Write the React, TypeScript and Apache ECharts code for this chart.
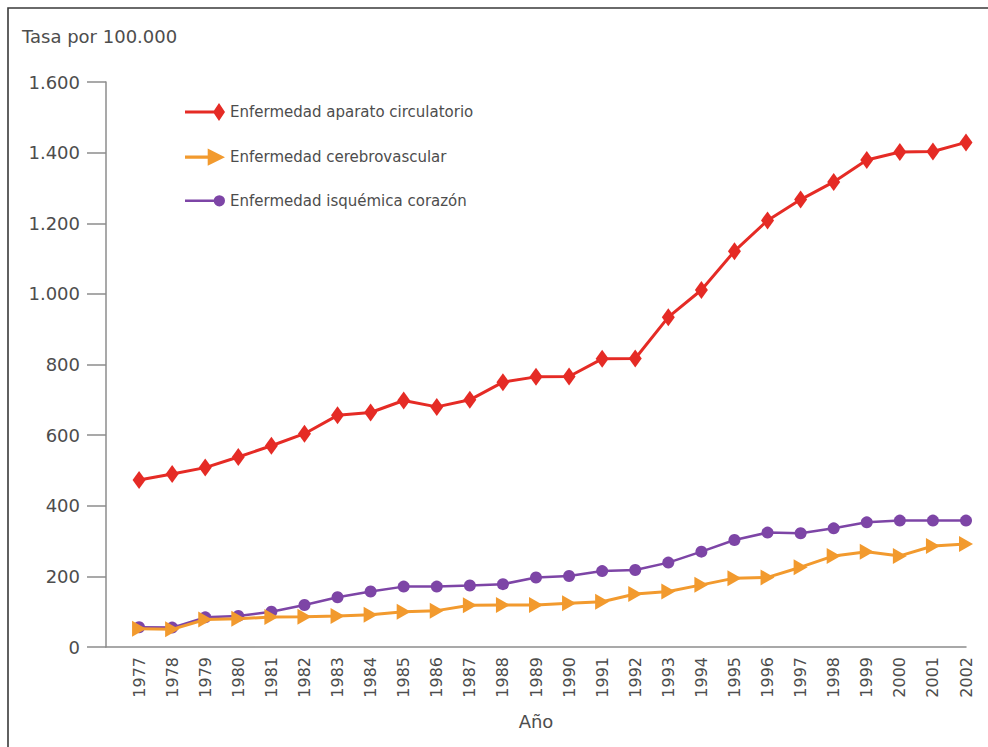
import React, { useEffect, useRef } from "react";
import * as echarts from "echarts";

// Años del período
const years = [
  1977, 1978, 1979, 1980, 1981, 1982, 1983, 1984, 1985, 1986, 1987, 1988, 1989,
  1990, 1991, 1992, 1993, 1994, 1995, 1996, 1997, 1998, 1999, 2000, 2001, 2002,
];

// Tasas por 100.000 habitantes
const circulatorio = [
  473, 490, 508, 538, 570, 604, 656, 664, 698, 680, 700, 750, 765,
  766, 816, 817, 934, 1011, 1121, 1208, 1267, 1317, 1379, 1402, 1403, 1429,
];
const cerebrovascular = [
  52, 50, 78, 80, 85, 86, 88, 91, 100, 103, 118, 119, 119,
  124, 128, 150, 157, 176, 195, 197, 226, 258, 270, 258, 286, 292,
];
const isquemica = [
  56, 55, 84, 88, 100, 119, 141, 157, 171, 171, 174, 178, 197,
  201, 215, 218, 239, 270, 303, 324, 322, 336, 353, 358, 358, 358,
];

const seriesNames = [
  "Enfermedad aparato circulatorio",
  "Enfermedad cerebrovascular",
  "Enfermedad isquémica corazón",
];

const RED = "#e52b25";
const ORANGE = "#f29a2e";
const PURPLE = "#7d45a6";
const TEXT = "#4d4d4d";
const AXIS = "#8c8c8c";
const FONT = "'DejaVu Sans', 'Liberation Sans', sans-serif";

// Iconos de leyenda: línea con el marcador en el extremo
const iconDiamond = "path://M0,8.5 L30,8.5 L30,11.5 L0,11.5 Z M34,1 L40,10 L34,19 L28,10 Z";
const iconArrow = "path://M0,8.5 L24,8.5 L24,11.5 L0,11.5 Z M21,2 L37,10 L21,18 Z";
const iconDot =
  "path://M0,8.8 L30,8.8 L30,11.2 L0,11.2 Z M39,10 A5.5,5.5 0 1 1 28,10 A5.5,5.5 0 1 1 39,10 Z";

const pairs = (vals: number[]) => years.map((y, i) => [y, vals[i]]);

const fmtThousands = (v: number) =>
  v >= 1000 ? `${Math.floor(v / 1000)}.${String(v % 1000).padStart(3, "0")}` : String(v);

export default function App() {
  const ref = useRef<HTMLDivElement>(null);

  useEffect(() => {
    if (!ref.current) return;
    const chart = echarts.init(ref.current, null, { renderer: "svg" });
    chart.setOption({
      animation: false,
      backgroundColor: "#ffffff",
      textStyle: { fontFamily: FONT },
      grid: {
        left: 106,
        right: 22,
        top: 82,
        bottom: 100,
        containLabel: false,
        outerBoundsMode: "none",
      },
      graphic: [
        {
          type: "rect",
          silent: true,
          shape: { x: 8, y: 8, width: 1000, height: 800 },
          style: { fill: "none", stroke: "#3a3a3a", lineWidth: 1.6 },
        },
        {
          type: "text",
          left: 22,
          top: 27,
          style: {
            text: "Tasa por 100.000",
            fontSize: 18,
            fontFamily: FONT,
            fill: TEXT,
          },
        },
      ],
      legend: {
        orient: "vertical",
        left: 185,
        top: 103,
        padding: 0,
        itemWidth: 40,
        itemHeight: 20,
        itemGap: 27.5,
        textStyle: { fontSize: 15, color: TEXT, fontFamily: FONT },
        data: [
          { name: seriesNames[0], icon: iconDiamond, itemStyle: { color: RED } },
          { name: seriesNames[1], icon: iconArrow, itemStyle: { color: ORANGE } },
          { name: seriesNames[2], icon: iconDot, itemStyle: { color: PURPLE } },
        ],
      },
      xAxis: {
        type: "value",
        min: 1976,
        max: 2002,
        interval: 1,
        name: "Año",
        nameLocation: "middle",
        nameGap: 65,
        nameTextStyle: { fontSize: 18, color: TEXT, fontFamily: FONT },
        axisLine: { show: true, lineStyle: { color: AXIS, width: 1.5 } },
        axisTick: { show: false },
        splitLine: { show: false },
        axisLabel: {
          rotate: 90,
          margin: 10,
          fontSize: 16,
          color: TEXT,
          fontFamily: FONT,
          showMinLabel: true,
          formatter: (v: number) => (v === 1976 ? "" : String(v)),
        },
      },
      yAxis: {
        type: "value",
        min: 0,
        max: 1600,
        interval: 200,
        axisLine: { show: true, lineStyle: { color: AXIS, width: 1.5 } },
        axisTick: { show: true, length: 19, lineStyle: { color: AXIS, width: 1.5 } },
        splitLine: { show: false },
        axisLabel: {
          margin: 26,
          fontSize: 18,
          color: TEXT,
          fontFamily: FONT,
          formatter: (v: number) => fmtThousands(v),
        },
      },
      series: [
        {
          name: seriesNames[0],
          type: "line",
          data: pairs(circulatorio),
          symbol: "diamond",
          symbolSize: [13, 18],
          color: RED,
          lineStyle: { color: RED, width: 3 },
          itemStyle: { color: RED },
          z: 4,
        },
        {
          name: seriesNames[1],
          type: "line",
          data: pairs(cerebrovascular),
          symbol: "triangle",
          symbolRotate: -90,
          symbolSize: [16, 14],
          color: ORANGE,
          lineStyle: { color: ORANGE, width: 3 },
          itemStyle: { color: ORANGE },
          z: 3,
        },
        {
          name: seriesNames[2],
          type: "line",
          data: pairs(isquemica),
          symbol: "circle",
          symbolSize: 12,
          color: PURPLE,
          lineStyle: { color: PURPLE, width: 2.5 },
          itemStyle: { color: PURPLE },
          z: 2,
        },
      ],
    });
    return () => chart.dispose();
  }, []);

  return (
    <div
      ref={ref}
      style={{ position: "fixed", left: 0, top: 0, width: 988, height: 747, background: "#fff" }}
    />
  );
}
